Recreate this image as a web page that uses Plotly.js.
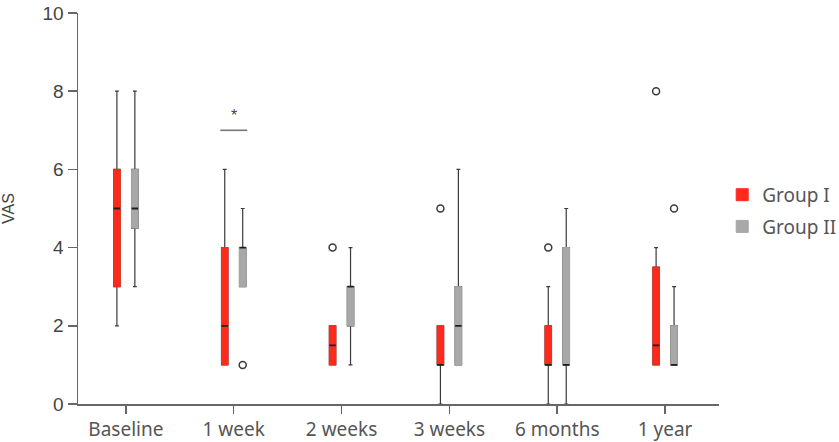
<!DOCTYPE html>
<html>
<head>
<meta charset="utf-8">
<script src="https://cdn.plot.ly/plotly-3.0.1.min.js"></script>
<style>
  html, body { margin: 0; padding: 0; background: #fff; }
  #chart { width: 839px; height: 442px; }
</style>
</head>
<body>
<div id="chart"></div>
<script>
// Visit labels along the x axis
const visits = ['Baseline', '1 week', '2 weeks', '3 weeks', '6 months', '1 year'];

// VAS box statistics, Group I
const g1Lower  = [2, 1, 1,   0, 0, 1];
const g1Q1     = [3, 1, 1,   1, 1, 1];
const g1Median = [5, 2, 1.5, 1, 1, 1.5];
const g1Q3     = [6, 4, 2,   2, 2, 3.5];
const g1Upper  = [8, 6, 2,   2, 3, 4];
const g1OutlierVisits = ['2 weeks', '3 weeks', '6 months', '1 year'];
const g1OutlierValues = [4, 5, 4, 8];

// VAS box statistics, Group II
const g2Lower  = [3,   3, 1, 1, 0, 1];
const g2Q1     = [4.5, 3, 2, 1, 1, 1];
const g2Median = [5,   4, 3, 2, 1, 1];
const g2Q3     = [6,   4, 3, 3, 4, 2];
const g2Upper  = [8,   5, 4, 6, 5, 3];
const g2OutlierVisits = ['1 week', '1 year'];
const g2OutlierValues = [1, 5];

// Significant between-group difference
const sigVisit = '1 week';
const sigLevel = 7;

const RED = '#fe2b1c';
const GRAY = '#a8a8a8';
const INK = '#3a3a3a';

// Each group is drawn in three layers sharing one offset slot:
// whiskers + caps, the solid IQR block, and the dark median bar.
function groupTraces(name, color, lower, q1, med, q3, upper, oVis, oVal) {
  const common = {
    type: 'box', x: visits, offsetgroup: name, alignmentgroup: 'vas',
    boxpoints: false, hoverinfo: 'skip', legendgroup: name
  };
  return [
    Object.assign({}, common, {
      name: name, showlegend: false,
      q1: q1, median: med, q3: q3, lowerfence: lower, upperfence: upper,
      fillcolor: 'rgba(0,0,0,0)', line: { color: INK, width: 1.2 },
      whiskerwidth: 0.6
    }),
    Object.assign({}, common, {
      name: name, showlegend: true,
      q1: q1, median: q1, q3: q3, lowerfence: q1, upperfence: q3,
      fillcolor: color, line: { color: color, width: 1 },
      whiskerwidth: 0
    }),
    Object.assign({}, common, {
      name: name, showlegend: false,
      q1: med, median: med, q3: med, lowerfence: med, upperfence: med,
      fillcolor: 'rgba(0,0,0,0)', line: { color: '#1e1e1e', width: 1.8 },
      whiskerwidth: 0
    }),
    {
      type: 'scatter', mode: 'markers', x: oVis, y: oVal,
      offsetgroup: name, alignmentgroup: 'vas', legendgroup: name,
      showlegend: false, hoverinfo: 'skip', cliponaxis: false,
      marker: { symbol: 'circle-open', size: 7, color: INK, line: { width: 1.5 } }
    }
  ];
}

const data = [].concat(
  groupTraces('Group I', RED, g1Lower, g1Q1, g1Median, g1Q3, g1Upper, g1OutlierVisits, g1OutlierValues),
  groupTraces('Group II', GRAY, g2Lower, g2Q1, g2Median, g2Q3, g2Upper, g2OutlierVisits, g2OutlierValues)
);

const sigIndex = visits.indexOf(sigVisit);

const layout = {
  width: 839, height: 442,
  margin: { l: 78, r: 120, t: 13, b: 38, autoexpand: false },
  paper_bgcolor: '#fff', plot_bgcolor: '#fff',
  boxmode: 'group', boxgap: 0.667, boxgroupgap: 0.64,
  scattermode: 'group', scattergap: 0.667,
  showlegend: true,
  legend: {
    x: 1.005, xanchor: 'left', y: 0.494, yanchor: 'middle',
    traceorder: 'grouped', tracegroupgap: 4,
    font: { family: 'Noto Sans, sans-serif', size: 19, color: '#555' }
  },
  xaxis: {
    type: 'category', range: [-0.444, 5.5],
    showline: true, linecolor: '#666', linewidth: 1.5,
    ticks: 'outside', ticklen: 8, tickcolor: '#666', tickwidth: 1.5,
    showgrid: false, zeroline: false,
    tickfont: { family: 'Noto Sans, sans-serif', size: 19, color: '#555' }
  },
  yaxis: {
    range: [0, 10], dtick: 2,
    showline: true, linecolor: '#666', linewidth: 1.5,
    ticks: 'outside', ticklen: 9, tickcolor: '#666', tickwidth: 1.5,
    showgrid: false, zeroline: false,
    tickfont: { family: 'Liberation Sans, Arial, sans-serif', size: 19, color: '#444' },
    title: { text: 'VAS', standoff: 35, font: { family: 'Liberation Sans, Arial, sans-serif', size: 16, color: '#444' } }
  },
  shapes: [{
    type: 'line', xref: 'x', yref: 'y',
    x0: sigIndex - 0.125, x1: sigIndex + 0.125, y0: sigLevel, y1: sigLevel,
    line: { color: '#777', width: 1.6 }
  }],
  annotations: [{
    xref: 'x', yref: 'y', x: sigVisit, y: sigLevel, yshift: 15,
    text: '*', showarrow: false,
    font: { family: 'Liberation Sans, Arial, sans-serif', size: 16, color: '#444' }
  }]
};

Plotly.newPlot('chart', data, layout, { displayModeBar: false, staticPlot: true });
</script>
</body>
</html>
